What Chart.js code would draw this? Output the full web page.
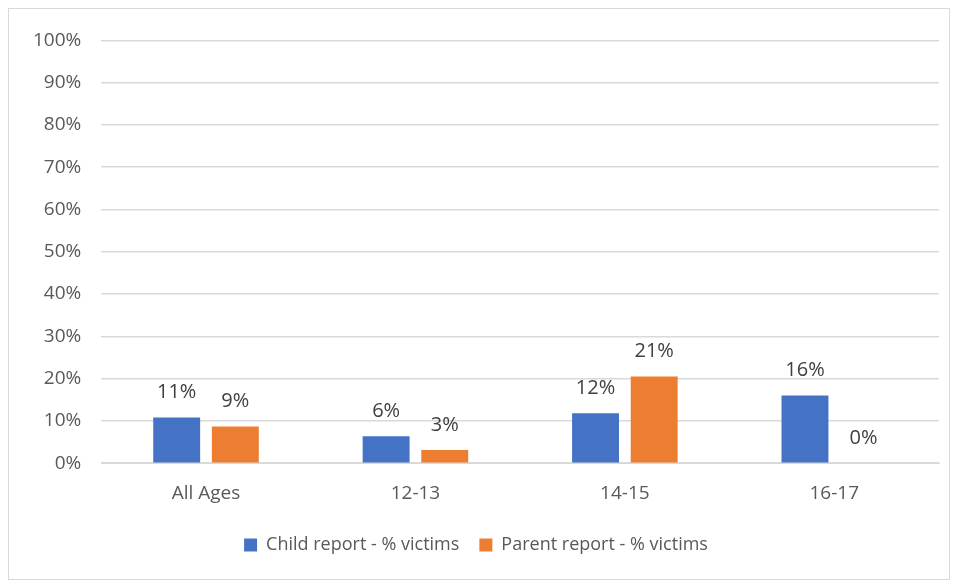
<!DOCTYPE html>
<html>
<head>
<meta charset="utf-8">
<script src="https://cdn.jsdelivr.net/npm/chart.js@4/dist/chart.umd.min.js"></script>
<style>
  body { margin: 0; background: #fff; }
  #box { position: absolute; left: 8px; top: 8px; width: 940px; height: 570px; border: 1px solid #d9d9d9; }
  canvas { display: block; }
</style>
</head>
<body>
<div id="box"><canvas id="myChart" width="940" height="570"></canvas></div>
<script>
const categories = ['All Ages', '12-13', '14-15', '16-17'];
const childReport = [10.8, 6.4, 11.8, 16.0];
const parentReport = [8.7, 3.1, 20.5, 0];
const seriesNames = ['Child report - % victims', 'Parent report - % victims'];

// draws the % value above every bar
const valueLabels = {
    id: 'valueLabels',
    afterDatasetsDraw(chart) {
        const ctx = chart.ctx;
        ctx.save();
        ctx.font = '20px "Open Sans", sans-serif';
        ctx.fillStyle = '#404040';
        ctx.textAlign = 'center';
        ctx.textBaseline = 'middle';
        chart.data.datasets.forEach((ds, i) => {
            chart.getDatasetMeta(i).data.forEach((bar, j) => {
                ctx.fillText(Math.round(ds.data[j]) + '%', bar.x, bar.y - 25);
            });
        });
        ctx.restore();
    }
};

new Chart(document.getElementById('myChart').getContext('2d'), {
    type: 'bar',
    data: {
        labels: categories,
        datasets: [
            { label: seriesNames[0], data: childReport, backgroundColor: '#4472C4' },
            { label: seriesNames[1], data: parentReport, backgroundColor: '#ED7D31' }
        ]
    },
    options: {
        responsive: false,
        animation: false,
        categoryPercentage: 0.56,
        barPercentage: 0.8,
        layout: { padding: { top: 10, right: 10, left: 4, bottom: 15 } },
        scales: {
            x: {
                grid: { display: false },
                border: { color: '#d9d9d9' },
                ticks: { color: '#595959', font: { family: 'Open Sans', size: 19 }, padding: 11 }
            },
            y: {
                min: 0,
                max: 100,
                grid: { color: '#d9d9d9', lineWidth: 1.5, drawTicks: false },
                border: { display: false },
                ticks: {
                    stepSize: 10,
                    color: '#595959',
                    font: { family: 'Open Sans', size: 19 },
                    padding: 20,
                    callback: v => v + '%'
                }
            }
        },
        plugins: {
            legend: {
                position: 'bottom',
                labels: {
                    color: '#595959',
                    font: { family: 'Open Sans', size: 18 },
                    boxWidth: 13,
                    boxHeight: 13,
                    padding: 20
                }
            },
            tooltip: { enabled: false }
        }
    },
    plugins: [valueLabels]
});
</script>
</body>
</html>
